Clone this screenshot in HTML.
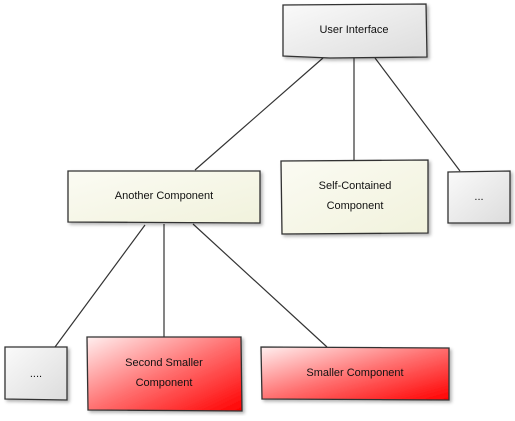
<!DOCTYPE html>
<html><head><style>
body{margin:0;width:515px;height:416px;background:#fff;overflow:hidden}
text{font-family:"Liberation Sans",sans-serif;font-size:11px;fill:#111}
</style></head><body>
<svg width="515" height="416" xmlns="http://www.w3.org/2000/svg">
<defs>
<linearGradient id="g" x1="0" y1="0" x2="1" y2="1"><stop offset="0" stop-color="#fafafa"/><stop offset="1" stop-color="#dcdcdc"/></linearGradient>
<linearGradient id="y" x1="0" y1="0" x2="1" y2="1"><stop offset="0" stop-color="#fbfbf3"/><stop offset="1" stop-color="#f1f2dc"/></linearGradient>
<linearGradient id="r" x1="0" y1="0" x2="1" y2="1"><stop offset="0" stop-color="#fff0f0"/><stop offset="0.5" stop-color="#ff7070"/><stop offset="1" stop-color="#ff0000"/></linearGradient>
<filter id="s"><feDropShadow dx="2" dy="2" stdDeviation="1.5" flood-opacity="0.3"/></filter>
</defs>
<g stroke="#333" stroke-width="1.2">
<line x1="323" y1="58" x2="195" y2="170"/>
<line x1="354" y1="58" x2="354" y2="160"/>
<line x1="375" y1="58" x2="460" y2="171"/>
<line x1="145" y1="225" x2="55" y2="347"/>
<line x1="164" y1="224" x2="164" y2="337"/>
<line x1="193" y1="224" x2="327" y2="347"/>
</g>
<g stroke="#333" stroke-width="1.3" filter="url(#s)">
<path d="M283,5 L426,4 L427,57 L330,58 L283,56 Z" fill="url(#g)"/>
<path d="M68,171 L260,171 L260,223 L68,222 Z" fill="url(#y)"/>
<path d="M281,161 L428,160 L428,233 L282,234 Z" fill="url(#y)"/>
<path d="M448,172 L510,171 L510,223 L448,223 Z" fill="url(#g)"/>
<path d="M5,347 L67,347 L67,400 L5,399 Z" fill="url(#g)"/>
<path d="M87,337 L241,337 L242,411 L88,410 Z" fill="url(#r)"/>
<path d="M261,347 L449,348 L449,400 L262,399 Z" fill="url(#r)"/>
</g>
<text x="354" y="33" text-anchor="middle">User Interface</text>
<text x="164" y="199" text-anchor="middle">Another Component</text>
<text x="355" y="189" text-anchor="middle">Self-Contained</text>
<text x="355" y="209" text-anchor="middle">Component</text>
<text x="479" y="200" text-anchor="middle">...</text>
<text x="36" y="377" text-anchor="middle">....</text>
<text x="164" y="366" text-anchor="middle">Second Smaller</text>
<text x="164" y="386" text-anchor="middle">Component</text>
<text x="355" y="376" text-anchor="middle">Smaller Component</text>
</svg>
</body></html>
